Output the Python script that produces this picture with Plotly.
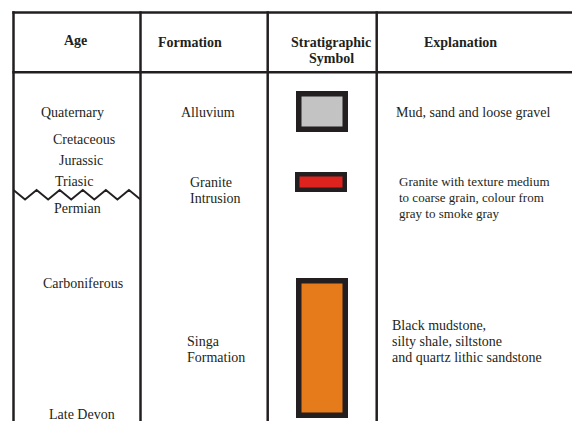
import plotly.graph_objects as go

# ---------------- data ----------------
headers = ["Age", "Formation", "Stratigraphic<br>Symbol", "Explanation"]
ages = ["Quaternary", "Cretaceous", "Jurassic", "Triasic", "Permian",
        "Carboniferous", "Late Devon"]
formations = ["Alluvium", "Granite<br>Intrusion", "Singa<br>Formation"]
symbol_colors = ["#c3c3c3", "#de231f", "#e67b1b"]
explanations = [
    "Mud, sand and loose gravel",
    "Granite with texture medium<br>to coarse grain, colour from<br>gray to smoke gray",
    "Black mudstone,<br>silty shale, siltstone<br>and quartz lithic sandstone",
]

# ---------------- layout (pixel-like coordinates) ----------------
W, H = 572, 421
INK = "#231f20"
FONT = "Liberation Serif, Times New Roman, serif"

col_lines = [13.5, 140.5, 267.7, 376.7]
top_line, header_line = 12.5, 72.3

header_pos = [(75, 40, "center"), (190, 42, "center"), (331, 42, "center"), (460, 42, "center")]
age_pos = [(72, 112), (84, 139), (81, 160), (74, 181), (77, 208), (83, 283), (82, 414)]
formation_pos = [(208, 112, "center"), (188, 182, "left"), (185, 341, "left")]
symbol_box = [(296, 348, 91, 132, 5.5), (295, 347, 172, 192, 4.5), (296, 348, 278, 418, 5.5)]
expl_pos = [(394, 112, 14), (397, 181, 13), (390, 325, 14)]
line_step = 16

# unconformity glyph: 11 segments across the Age column
zig_segments = 11
zig_top, zig_bottom = 190, 199.5

fig = go.Figure()

shapes = []
# table grid
for x in col_lines:
    shapes.append(dict(type="line", x0=x, x1=x, y0=top_line - 1.2, y1=H + 5,
                       line=dict(color=INK, width=2.5)))
for y in (top_line, header_line):
    shapes.append(dict(type="line", x0=col_lines[0] - 1.2, x1=W + 5, y0=y, y1=y,
                       line=dict(color=INK, width=2.5)))

# symbol boxes
for (x0, x1, y0, y1, bw), col in zip(symbol_box, symbol_colors):
    h = bw / 2
    shapes.append(dict(type="rect", x0=x0 + h, x1=x1 - h, y0=y0 + h, y1=y1 - h,
                       fillcolor=col, line=dict(color=INK, width=bw)))

# unconformity zigzag in the Age column
x_start, x_end = col_lines[0], col_lines[1]
tooth = (x_end - x_start) / zig_segments
zx = [x_start + k * tooth for k in range(zig_segments + 1)]
zy = [zig_top if k % 2 == 0 else zig_bottom for k in range(zig_segments + 1)]
fig.add_trace(go.Scatter(x=zx, y=zy, mode="lines",
                         line=dict(color=INK, width=1.9), hoverinfo="skip",
                         showlegend=False))

annotations = []


def add_text(x, y, text, size, anchor="center", bold=False):
    lines = text.split("<br>")
    for k, ln in enumerate(lines):
        annotations.append(dict(
            x=x, y=y + k * line_step, xref="x", yref="y",
            text=f"<b>{ln}</b>" if bold else ln, showarrow=False,
            xanchor=anchor, yanchor="middle",
            font=dict(family=FONT, size=size, color=INK)))


for (x, y, a), t in zip(header_pos, headers):
    add_text(x, y, t, 14, a, bold=True)
for (x, y), t in zip(age_pos, ages):
    add_text(x, y, t, 14)
for (x, y, a), t in zip(formation_pos, formations):
    add_text(x, y, t, 14, a)
for (x, y, s), t in zip(expl_pos, explanations):
    add_text(x, y, t, s, "left")

fig.update_layout(
    width=W, height=H, margin=dict(l=0, r=0, t=0, b=0),
    paper_bgcolor="white", plot_bgcolor="white",
    xaxis=dict(range=[0, W], visible=False, fixedrange=True),
    yaxis=dict(range=[H, 0], visible=False, fixedrange=True),
    shapes=shapes, annotations=annotations, showlegend=False,
)

fig.write_html("out.html", config={"displayModeBar": False},
               post_script="document.body.style.margin='0';document.body.style.padding='0';document.body.style.overflow='hidden';")
